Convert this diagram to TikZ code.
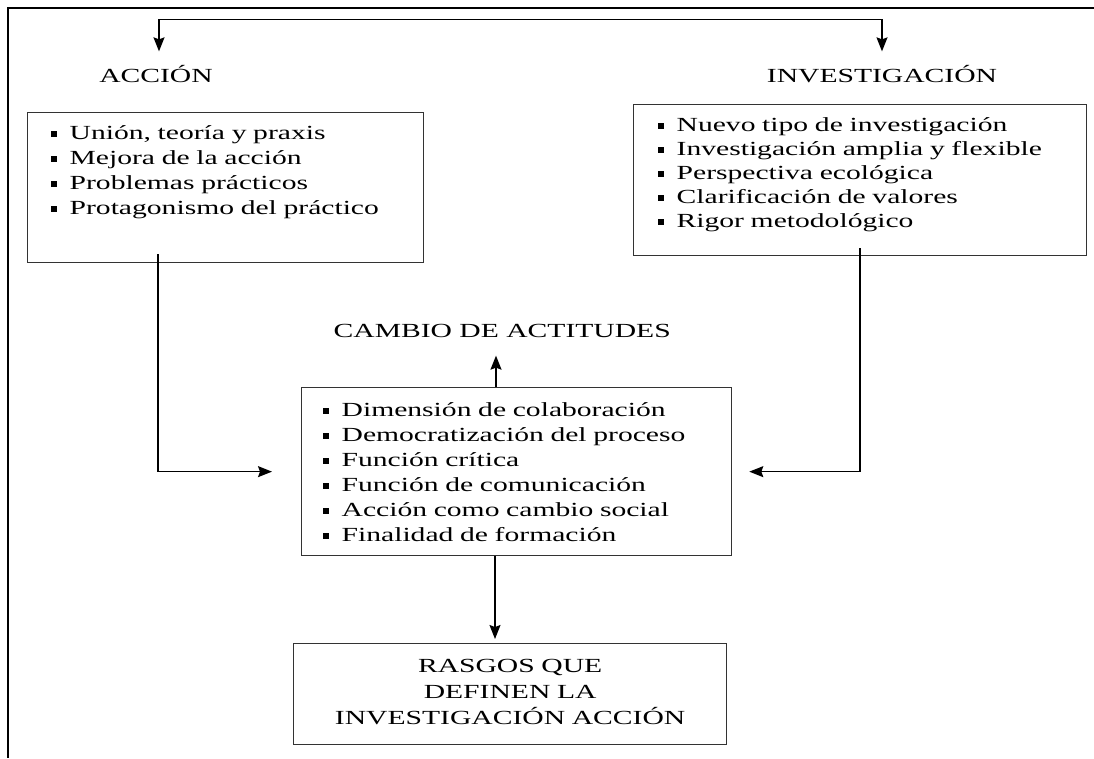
\documentclass[tikz,border=0pt]{standalone}
\usepackage{fontspec}
\setmainfont{Liberation Serif}[FakeStretch=1.48]
\usetikzlibrary{arrows.meta}

\newcommand{\sqbul}{\rule[3pt]{6pt}{6pt}\hspace{13pt}}

\begin{document}
\begin{tikzpicture}[->,>={Stealth[length=14pt,width=11pt,inset=2pt]},x=1pt,y=-1pt,
  line width=1.3pt,font=\fontsize{20}{25}\selectfont]
  \tikzstyle{lbl}=[inner sep=3pt,text height=16pt,text depth=5pt]
  \tikzstyle{lst}=[draw=black!80,anchor=north west,align=left,text height=17pt]

  \useasboundingbox (0,0) rectangle (1094,758);
  \draw[-,line width=2.2pt] (1094,8) -- (8,8) -- (8,758);

  \node[lbl,anchor=base] (acc) at (156,82) {ACCIÓN};
  \node[lbl,anchor=base] (inv) at (882,82) {INVESTIGACIÓN};

  \node[lst,text width=350pt,inner xsep=23pt,inner ysep=10pt,text depth=113pt] (accbox) at (27,112)
    {\sqbul Unión, teoría y praxis\\
     \sqbul Mejora de la acción\\
     \sqbul Problemas prácticos\\
     \sqbul Protagonismo del práctico};
  \node[lst,text width=405pt,inner xsep=24pt,inner ysep=10pt,text depth=114pt,
    font=\fontsize{20}{24}\selectfont] (invbox) at (633,104)
    {\sqbul Nuevo tipo de investigación\\
     \sqbul Investigación amplia y flexible\\
     \sqbul Perspectiva ecológica\\
     \sqbul Clarificación de valores\\
     \sqbul Rigor metodológico};

  \node[lbl,anchor=base west] (camb) at (330,337) {CAMBIO DE ACTITUDES};

  \node[lst,text width=388pt,inner xsep=21pt,inner ysep=12pt,text depth=127pt] (cen) at (301,387)
    {\sqbul Dimensión de colaboración\\
     \sqbul Democratización del proceso\\
     \sqbul Función crítica\\
     \sqbul Función de comunicación\\
     \sqbul Acción como cambio social\\
     \sqbul Finalidad de formación};

  \node[lst,align=center,text width=413pt,inner xsep=10pt,inner ysep=12pt,text depth=60pt,
    font=\fontsize{20}{26}\selectfont] (ras) at (293,643)
    {RASGOS QUE\\DEFINEN LA\\INVESTIGACIÓN ACCIÓN};

  % arrows
  \draw[<->] ([xshift=3pt,yshift=11pt]acc.north) -- ++(0,-32) -| ([yshift=11pt]inv.north);
  \draw[shorten >=29pt] ([xshift=131pt,yshift=9pt]accbox.south west) |- (cen.west);
  \draw[shorten >=17pt] ([xshift=227pt,yshift=8pt]invbox.south west) |- (cen.east);

  \coordinate (up) at ([xshift=195pt]cen.north west);
  \coordinate (dn) at ([xshift=194pt]cen.south west);
  \draw[shorten >=10pt] (up) -- (up |- camb.south);
  \draw[shorten >=4pt] (dn) -- (dn |- ras.north);
\end{tikzpicture}
\end{document}
